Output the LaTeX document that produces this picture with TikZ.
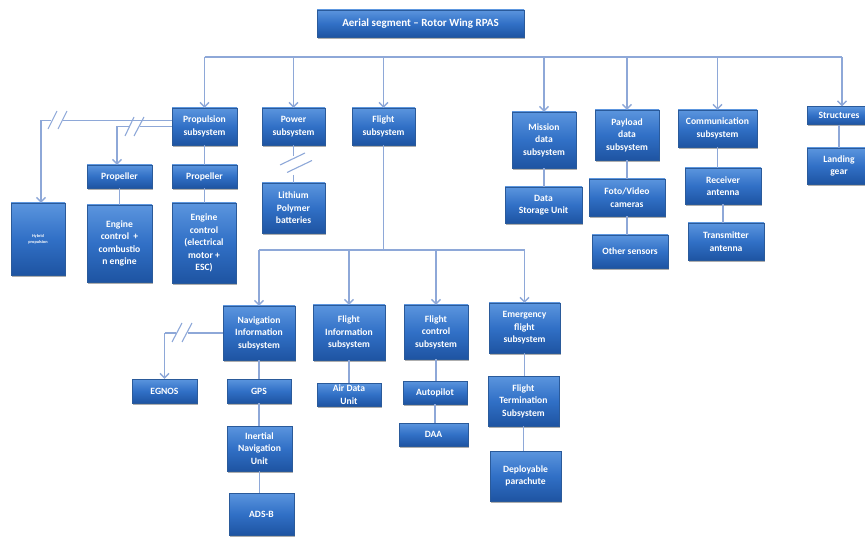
\documentclass[tikz,border=0pt]{standalone}
\usepackage{fontspec}
\setmainfont{Carlito}
\usetikzlibrary{arrows.meta,shadows}
\definecolor{boxtop}{HTML}{5B95DE}
\definecolor{boxmid}{HTML}{3170C6}
\definecolor{boxbot}{HTML}{1E54A2}
\definecolor{boxedge}{HTML}{2A5A9A}
\definecolor{linkc}{HTML}{8EA8D8}
\tikzset{
  box/.style={draw=boxedge, line width=0.4pt, top color=boxtop, bottom color=boxbot, middle color=boxmid,
    text=white, font=\fontsize{9.6}{12.4}\selectfont\bfseries, align=center,
    inner xsep=1pt, inner ysep=0pt, anchor=center,
    drop shadow={shadow xshift=1.2pt, shadow yshift=-1.6pt, opacity=0.45, fill=black!70}},
  link/.style={draw=linkc, line width=1.3pt},
  arr/.style={link, -{Straight Barb[length=4.5pt,width=9pt]}},
  brk/.style={draw=linkc, line width=1.1pt}
}
\begin{document}
\begin{tikzpicture}[x=1pt,y=-1pt]
\useasboundingbox (0,0) rectangle (865,537);
% top level
\node[box, minimum width=207, minimum height=27, font=\fontsize{11}{13}\selectfont\bfseries] (title) at (420.5,23.5) {Aerial segment -- Rotor Wing RPAS};
\coordinate (bus) at (0,57);
\node[box, minimum width=65, minimum height=37] (prop) at (204.5,126.5) {Propulsion\\subsystem};
\node[box, minimum width=63, minimum height=37] (power) at (293.5,126.5) {Power\\subsystem};
\node[box, minimum width=63, minimum height=37] (flight) at (383.5,126.5) {Flight\\subsystem};
\node[box, minimum width=64, minimum height=56] (mission) at (544,140) {Mission\\data\\subsystem};
\node[box, minimum width=64, minimum height=50] (payload) at (627,135) {Payload\\data\\subsystem};
\node[box, minimum width=79, minimum height=37] (comm) at (717.5,128.5) {Communication\\subsystem};
\node[box, minimum width=64, minimum height=18] (struct) at (839,115.5) {Structures};
% propulsion children
\node[box, minimum width=54, minimum height=72, font=\fontsize{4.3}{6}\selectfont\bfseries] (hybrid) at (38,239) {Hybrid\\propulsion};
\node[box, minimum width=65, minimum height=23] (prop1) at (119.5,176.5) {Propeller};
\node[box, minimum width=65, minimum height=23] (prop2) at (204.5,176.5) {Propeller};
\node[box, minimum width=65, minimum height=77] (eng1) at (119.5,243.5) {Engine\\control\ \ +\\combustio\\n engine};
\node[box, minimum width=64, minimum height=80] (eng2) at (204,243) {Engine\\control\\(electrical\\motor +\\ESC)};
\node[box, minimum width=63, minimum height=50] (lith) at (293.5,208) {Lithium\\Polymer\\batteries};
% mission / payload / comm / structures children
\node[box, minimum width=77, minimum height=36] (dsu) at (543.5,205) {Data\\Storage Unit};
\node[box, minimum width=76, minimum height=37] (foto) at (627,197.5) {Foto/Video\\cameras};
\node[box, minimum width=76, minimum height=33] (other) at (630,251.5) {Other sensors};
\node[box, minimum width=76, minimum height=36] (recv) at (723,186) {Receiver\\antenna};
\node[box, minimum width=76, minimum height=37] (trans) at (726,241.5) {Transmitter\\antenna};
\node[box, minimum width=64, minimum height=36] (landing) at (839,166) {Landing\\gear};
% flight children
\coordinate (fbus) at (0,250);
\node[box, minimum width=72, minimum height=54] (nav) at (259,333) {Navigation\\Information\\subsystem};
\node[box, minimum width=72, minimum height=55] (finfo) at (349,332.5) {Flight\\Information\\subsystem};
\node[box, minimum width=64, minimum height=54] (fctrl) at (436,332) {Flight\\control\\subsystem};
\node[box, minimum width=71, minimum height=50] (emerg) at (524.5,328) {Emergency\\flight\\subsystem};
\node[box, minimum width=65, minimum height=24] (egnos) at (164.5,391) {EGNOS};
\node[box, minimum width=64, minimum height=24] (gps) at (259,391) {GPS};
\node[box, minimum width=65, minimum height=45] (ins) at (259.5,448.5) {Inertial\\Navigation\\Unit};
\node[box, minimum width=65, minimum height=42] (adsb) at (261.5,514) {ADS-B};
\node[box, minimum width=64, minimum height=23] (adu) at (349,394.5) {Air Data\\Unit};
\node[box, minimum width=64, minimum height=23] (auto) at (435,392.5) {Autopilot};
\node[box, minimum width=69, minimum height=23] (daa) at (433.5,434.5) {DAA};
\node[box, minimum width=71, minimum height=50] (fterm) at (523.5,401) {Flight\\Termination\\Subsystem};
\node[box, minimum width=71, minimum height=50] (para) at (525.5,476) {Deployable\\parachute};

% top bus
\draw[link] (prop.north |- bus) -- ([xshift=3pt]struct.north |- bus);
\foreach \n in {prop,power,flight,mission,payload,comm}
  \draw[arr] (\n.north |- bus) -- (\n.north);
\draw[arr] ([xshift=3pt]struct.north |- bus) -- ([xshift=3pt]struct.north);

% plain links
\draw[link] (prop.south) -- (prop2.north);
\draw[link] (prop1.south) -- (eng1.north);
\draw[link] (prop2.south) -- (prop2.south |- eng2.north);
\draw[link] (mission.south) -- (mission.south |- dsu.north);
\draw[link] (payload.south) -- (payload.south |- foto.north);
\draw[link] (foto.south) -- (foto.south |- other.north);
\draw[link] (comm.south) -- (comm.south |- recv.north);
\draw[link] (recv.south) -- (recv.south |- trans.north);
\draw[link] (struct.south) -- (struct.south |- landing.north);
\draw[link] (nav.south) -- (nav.south |- gps.north);
\draw[link] (gps.south) -- (gps.south |- ins.north);
\draw[link] (ins.south) -- (ins.south |- adsb.north);
\draw[link] (finfo.south) -- (finfo.south |- adu.north);
\draw[link] (fctrl.south) -- (fctrl.south |- auto.north);
\draw[link] (auto.south) -- (auto.south |- daa.north);
\draw[link] (emerg.south) -- (emerg.south |- fterm.north);
\draw[link] (fterm.south) -- (fterm.south |- para.north);

% flight bus
\draw[link] (flight.south) -- (flight.south |- fbus);
\draw[link] (nav.north |- fbus) -- (emerg.north |- fbus);
\foreach \n in {nav,finfo,fctrl,emerg}
  \draw[arr] (\n.north |- fbus) -- (\n.north);

% broken links: propulsion -> hybrid
\coordinate (hA) at (41,120.5);
\draw[link] ([yshift=6pt]prop.west) -- (63,120.5);
\draw[link] (51,120.5) -- (hA);
\draw[arr] (hA) -- ([xshift=3pt]hybrid.north);
\draw[brk] (48,129) -- (57,111);
\draw[brk] (58,129) -- (67,111);
% propulsion -> propeller 1
\coordinate (pA) at (117,126.5);
\draw[link] (prop.west) -- (140,126.5);
\draw[link] (129,126.5) -- (pA);
\draw[arr] (pA) -- ([xshift=-2.5pt]prop1.north);
\draw[brk] (125,136) -- (134,117);
\draw[brk] (134,136) -- (144,117);
% power -> lithium
\draw[link] (power.south) -- (293.5,156);
\draw[link] (293.5,175) -- (lith.north);
\draw[brk] (280,165) -- (305,153);
\draw[brk] (287,172.5) -- (312,160.5);
% navigation -> EGNOS
\coordinate (eA) at (164.5,333);
\draw[link] (nav.west) -- (188,333);
\draw[link] (176,333) -- (eA);
\draw[arr] (eA) -- (egnos.north);
\draw[brk] (172,342) -- (182,323);
\draw[brk] (182,342) -- (192,323);
\end{tikzpicture}
\end{document}
